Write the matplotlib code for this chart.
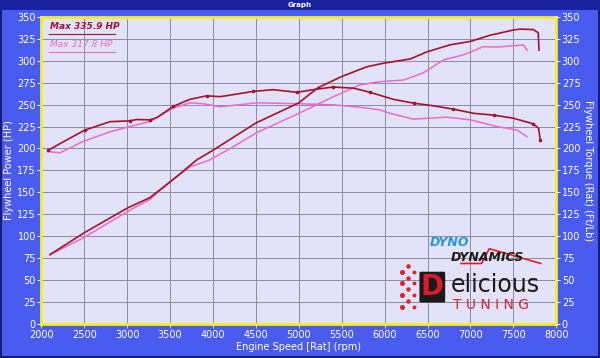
import matplotlib
matplotlib.use("Agg")
import matplotlib.pyplot as plt
from matplotlib.patches import Rectangle

# engine speed (rpm) and readings
pow1_rpm = [2100, 2500, 3000, 3265, 3540, 3810, 4000, 4500, 5000, 5220, 5500, 5790,
            5980, 6300, 6490, 6760, 7000, 7230, 7500, 7580, 7730, 7790, 7800]
pow1_hp = [79, 104, 132, 144, 165, 187, 198, 229, 252, 269, 282, 293,
           297, 302, 310, 318, 322, 329, 335, 336, 335.5, 332, 312]

tq1_rpm = [2080, 2300, 2507, 2800, 3030, 3110, 3265, 3343, 3537, 3732, 3926, 4082,
           4470, 4700, 4976, 5210, 5400, 5640, 5830, 6100, 6340, 6570, 6800, 7040,
           7270, 7500, 7735, 7795, 7813]
tq1_ft = [198, 210, 221, 230.5, 231.5, 233, 232.6, 235, 248, 256, 260, 259,
          265, 267, 264, 267.6, 270, 268.7, 264, 256, 251.6, 248.6, 244.8, 240,
          238, 234.5, 228, 223, 210]

pow2_rpm = [2100, 2487, 3000, 3265, 3537, 3732, 3965, 4237, 4510, 5000, 5403, 5714,
            5940, 6220, 6450, 6690, 6920, 7150, 7310, 7500, 7620, 7660]
pow2_hp = [79, 98, 128, 142, 165, 179, 187, 202, 218, 240, 259, 272.5,
           276, 278, 286, 301, 306.7, 316, 315.5, 317, 318, 312]

tq2_rpm = [2080, 2216, 2487, 2800, 3032, 3265, 3537, 3732, 3887, 4082, 4510, 5000,
           5403, 5714, 5940, 6064, 6336, 6725, 7000, 7308, 7541, 7658]
tq2_ft = [196.5, 195, 208, 219, 225, 230.7, 246, 252, 251, 247.5, 252, 251,
          249.7, 247, 244, 240, 233.4, 235.7, 232.6, 225, 221, 213.6]

xticks = list(range(2000, 8001, 500))
yticks = list(range(0, 351, 25))

dark = "#a3122e"
pink = "#ee6ac8"
blue = "#4a5cf0"

fig = plt.figure(figsize=(6, 3.58), dpi=100, facecolor=blue)
# window frame and title bar
fig.patches.append(Rectangle((0, 0), 1, 1, transform=fig.transFigure, fill=False,
                             edgecolor="#1a1a78", linewidth=3))
fig.patches.append(Rectangle((0, 0.972), 1, 0.028, transform=fig.transFigure,
                             facecolor="#1b22a0", edgecolor="none"))
fig.text(0.5, 0.986, "Graph", color="white", fontsize=5, ha="center", va="center",
         fontweight="bold")

ax = fig.add_axes([0.069, 0.095, 0.858, 0.858])
ax.set_facecolor("#e2e2f8")
ax.plot(pow2_rpm, pow2_hp, color=pink, lw=1.1)
ax.plot(tq2_rpm, tq2_ft, color=pink, lw=1.1)
ax.plot(pow1_rpm, pow1_hp, color=dark, lw=1.2)
ax.plot(tq1_rpm, tq1_ft, color=dark, lw=1.2, marker="o", ms=1.6, markevery=2)

ax.set_xlim(2000, 8000)
ax.set_ylim(0, 350)
ax.set_xticks(xticks)
ax.set_yticks(yticks)
ax.grid(True, color="#8a8aa4", lw=0.7)
ax.set_axisbelow(True)
for s in ax.spines.values():
    s.set_color("#f4f020")
    s.set_linewidth(2)
ax.tick_params(colors="white", labelsize=7, length=3, width=0.6, pad=1)

ax2 = ax.twinx()
ax2.set_ylim(0, 350)
ax2.set_yticks(yticks)
ax2.tick_params(colors="white", labelsize=7, length=3, width=0.6, pad=1)
for s in ax2.spines.values():
    s.set_visible(False)

ax.set_xlabel("Engine Speed [Rat] (rpm)", color="white", fontsize=7, labelpad=2)
ax.set_ylabel("Flywheel Power (HP)", color="white", fontsize=7, labelpad=2)
ax2.set_ylabel("Flywheel Torque (Rat) (Ft/Lb)", color="white", fontsize=7,
               rotation=270, labelpad=9)

# max labels
ax.text(0.016, 0.968, "Max 335.9 HP", transform=ax.transAxes, color=dark, fontsize=6.5,
        fontstyle="italic", fontweight="bold", va="center")
ax.plot([0.014, 0.142], [0.945, 0.945], transform=ax.transAxes, color=dark, lw=0.8)
ax.text(0.016, 0.91, "Max 317.8 HP", transform=ax.transAxes, color=pink, fontsize=6.5,
        fontstyle="italic", va="center")
ax.plot([0.014, 0.142], [0.887, 0.887], transform=ax.transAxes, color=pink, lw=0.8)

# logos
ax.text(0.755, 0.264, "DYNO", transform=ax.transAxes, color="#2a98d6", fontsize=9,
        fontstyle="italic", fontweight="heavy", ha="left", va="center")
ax.text(0.795, 0.218, "DYNAMICS", transform=ax.transAxes, color="#1a1a1a", fontsize=9,
        fontstyle="italic", fontweight="heavy", ha="left", va="center")
ax.plot([0.815, 0.855, 0.87, 0.97], [0.197, 0.197, 0.245, 0.197], transform=ax.transAxes,
        color="#e01c24", lw=1.2)
ax.text(0.737, 0.12, "D", transform=ax.transAxes, color="#d81c2c", fontsize=20,
        fontweight="heavy", ha="left", va="center",
        bbox=dict(boxstyle="round,pad=0.05", fc="#1a1a1a", ec="none"))
ax.text(0.795, 0.127, "elicious", transform=ax.transAxes, color="#1a1a1a", fontsize=17,
        ha="left", va="center")
ax.text(0.8, 0.062, "T U N I N G", transform=ax.transAxes, color="#e0202c", fontsize=10,
        ha="left", va="center")
for i in range(4):
    for j in range(3):
        ax.plot(0.7 + j * 0.012, 0.17 - i * 0.038 + (j % 2) * 0.019, "o",
                transform=ax.transAxes, color="#e0202c", ms=2.6 - 0.4 * j)

fig.savefig("out.png", dpi=100, facecolor=blue)
